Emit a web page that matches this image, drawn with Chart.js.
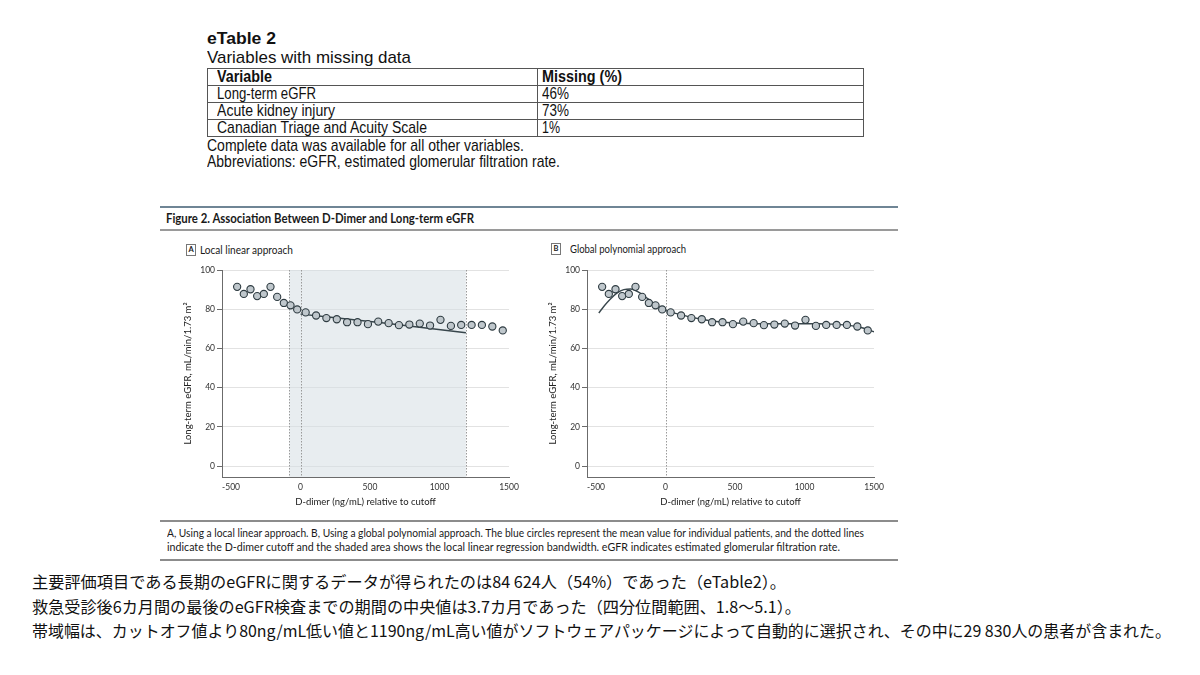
<!DOCTYPE html>
<html lang="ja">
<head>
<meta charset="UTF-8">
<title>eTable 2 / Figure 2</title>
<script src="https://cdn.jsdelivr.net/npm/chart.js@4.4.0/dist/chart.umd.min.js"></script>
<style>
    body {
        margin: 0;
        width: 1200px;
        height: 675px;
        position: relative;
        overflow: hidden;
        background: #fff;
        color: #111;
        font-family: 'Liberation Sans', Arial, sans-serif;
    }
    .t {
        position: absolute;
        white-space: nowrap;
        transform-origin: 0 50%;
    }
    .fit {
        display: inline-block;
        white-space: nowrap;
        transform-origin: 0 50%;
    }
    .narrow { font-size: 17px; line-height: 18px; }
    #tbl {
        position: absolute;
        left: 207px;
        top: 68px;
        width: 656px;
        border-collapse: collapse;
        table-layout: fixed;
        font-size: 17px;
    }
    #tbl td {
        border: 1px solid #555;
        height: 16px;
        line-height: 16px;
        padding: 0 0 0 9px;
        overflow: visible;
    }
    #tbl td.c2 { padding-left: 4px; }
    .rule { position: absolute; left: 160px; width: 738px; }
    .fig { font-family: Lato, 'Open Sans', sans-serif; color: #1a1a1a; }
    .box {
        position: absolute;
        width: 8px;
        height: 10px;
        border: 1px solid #777;
        font: bold 7.5px Lato, sans-serif;
        line-height: 10px;
        text-align: center;
        color: #222;
    }
    .jp { font-family: 'Noto Sans CJK JP', sans-serif; font-size: 16px; line-height: 20px; left: 32px; color: #111; }
    canvas { position: absolute; top: 255px; }
</style>
</head>
<body>
    <div class="t narrow" style="left:207px; top:30px; font-weight:bold;"><span class="fit" data-w="69">eTable 2</span></div>
    <div class="t narrow" style="left:207px; top:49px;"><span class="fit" data-w="204">Variables with missing data</span></div>

    <table id="tbl">
        <colgroup><col style="width:330px"><col style="width:326px"></colgroup>
        <tr><td><b class="fit" data-w="55">Variable</b></td><td class="c2"><b class="fit" data-w="80">Missing (%)</b></td></tr>
        <tr><td><span class="fit" data-w="99">Long-term eGFR</span></td><td class="c2"><span class="fit" data-w="27">46%</span></td></tr>
        <tr><td><span class="fit" data-w="118">Acute kidney injury</span></td><td class="c2"><span class="fit" data-w="27">73%</span></td></tr>
        <tr><td><span class="fit" data-w="210">Canadian Triage and Acuity Scale</span></td><td class="c2"><span class="fit" data-w="18">1%</span></td></tr>
    </table>

    <div class="t narrow" style="left:207px; top:137px;"><span class="fit" data-w="317">Complete data was available for all other variables.</span></div>
    <div class="t narrow" style="left:207px; top:153px;"><span class="fit" data-w="353">Abbreviations: eGFR, estimated glomerular filtration rate.</span></div>

    <div class="rule" style="top:206px; height:2px; background:#6f8595;"></div>
    <div class="t fig" style="left:166px; top:210px; font-size:14px; line-height:16px; font-weight:bold;"><span class="fit" data-w="308">Figure 2. Association Between D-Dimer and Long-term eGFR</span></div>
    <div class="rule" style="top:229px; height:2px; background:#9a9a9a;"></div>

    <div class="box" style="left:186px; top:244px;">A</div>
    <div class="t fig" style="left:200px; top:244px; font-size:10.5px; line-height:13px;"><span class="fit" data-w="93">Local linear approach</span></div>
    <div class="box" style="left:551px; top:243px;">B</div>
    <div class="t fig" style="left:570px; top:243px; font-size:10.5px; line-height:13px;"><span class="fit" data-w="116">Global polynomial approach</span></div>

    <canvas id="chartA" width="365" height="260" style="left:160px;"></canvas>
    <canvas id="chartB" width="365" height="260" style="left:525px;"></canvas>

    <div class="rule" style="top:520px; height:2px; background:#8c8c8c;"></div>
    <div class="t fig" style="left:167px; top:526px; font-size:11px; line-height:14px;"><span class="fit" data-w="697">A, Using a local linear approach. B, Using a global polynomial approach. The blue circles represent the mean value for individual patients, and the dotted lines</span></div>
    <div class="t fig" style="left:167px; top:540px; font-size:11px; line-height:14px;"><span class="fit" data-w="673">indicate the D-dimer cutoff and the shaded area shows the local linear regression bandwidth. eGFR indicates estimated glomerular filtration rate.</span></div>
    <div class="rule" style="top:559px; height:2px; background:#8c8c8c;"></div>

    <div class="t jp" style="top:571px;"><span class="fit" data-w="754">主要評価項目である長期のeGFRに関するデータが得られたのは84 624人（54%）であった（eTable2）。</span></div>
    <div class="t jp" style="top:596px;"><span class="fit" data-w="769">救急受診後6カ月間の最後のeGFR検査までの期間の中央値は3.7カ月であった（四分位間範囲、1.8～5.1）。</span></div>
    <div class="t jp" style="top:620px;"><span class="fit" data-w="1139">帯域幅は、カットオフ値より80ng/mL低い値と1190ng/mL高い値がソフトウェアパッケージによって自動的に選択され、その中に29 830人の患者が含まれた。</span></div>

    <script>
        // binned means (D-dimer relative to cutoff, eGFR)
        const binX = [-456, -408, -360, -312, -264, -216, -168, -120, -72, -24,
            37, 112, 186, 261, 335, 410, 485, 559, 634, 708,
            783, 858, 932, 1007, 1082, 1156, 1231, 1305, 1380, 1455];
        const binY = [91.4, 87.8, 90.2, 86.7, 87.8, 91.4, 86.3, 83.2, 82.0, 79.9,
            78.4, 76.8, 75.5, 74.9, 73.4, 73.4, 72.4, 73.7, 72.9, 71.9,
            72.2, 72.7, 71.7, 74.6, 71.5, 72.0, 72.0, 72.0, 71.2, 69.2];

        // A: local linear fit inside the bandwidth
        const fitAX = [0, 600, 1190];
        const fitAY = [77.5, 73.0, 68.0];

        // B: global polynomial fit, each side of the cutoff
        const fitBLeftX = [-480, -440, -400, -350, -300, -250, -200, -150, -100, -50, 0];
        const fitBLeftY = [78.1, 81.8, 85.0, 88.2, 90.0, 90.3, 89.0, 86.6, 83.8, 81.3, 79.3];
        const fitBRightX = [0, 100, 200, 300, 400, 500, 600, 700, 800, 900, 1000, 1100, 1200, 1300, 1400, 1500];
        const fitBRightY = [79.3, 77.4, 75.7, 74.4, 73.5, 73.0, 72.7, 72.6, 72.6, 72.6, 72.6, 72.6, 72.4, 71.9, 70.8, 68.5];

        const cutoff = 0;
        const bandLo = -80;
        const bandHi = 1190;

        const xTicks = [-500, 0, 500, 1000, 1500];
        const yTicks = [0, 20, 40, 60, 80, 100];

        // squeeze text blocks to the measured widths
        document.querySelectorAll('[data-w]').forEach(el => {
            const w = el.getBoundingClientRect().width;
            el.style.transform = 'scaleX(' + (el.dataset.w / w) + ')';
        });

        const pairs = (xs, ys) => xs.map((x, i) => ({ x: x, y: ys[i] }));

        const bandPlugin = {
            id: 'band',
            beforeDatasetsDraw(chart, args, opts) {
                const { ctx, chartArea: a, scales: { x } } = chart;
                ctx.save();
                if (opts.band) {
                    const x1 = x.getPixelForValue(opts.band[0]);
                    const x2 = x.getPixelForValue(opts.band[1]);
                    ctx.fillStyle = 'rgba(214, 222, 228, 0.55)';
                    ctx.fillRect(x1, a.top, x2 - x1, a.bottom - a.top);
                }
                ctx.strokeStyle = '#9a9a9a';
                ctx.lineWidth = 1;
                ctx.setLineDash([1.5, 1.5]);
                (opts.lines || []).forEach(v => {
                    const px = Math.round(x.getPixelForValue(v)) + 0.5;
                    ctx.beginPath();
                    ctx.moveTo(px, a.top);
                    ctx.lineTo(px, a.bottom);
                    ctx.stroke();
                });
                ctx.restore();
            }
        };

        const tickFont = { family: 'Lato', size: 8.5 };
        const titleFont = { family: 'Lato', size: 9.5, lineHeight: 1.2 };

        const pointSet = {
            type: 'scatter',
            data: pairs(binX, binY),
            pointRadius: 3.6,
            pointBackgroundColor: '#bfc7cc',
            pointBorderColor: '#2e3b41',
            pointBorderWidth: 1.1
        };

        function fitLine(xs, ys) {
            return {
                type: 'line',
                data: pairs(xs, ys),
                borderColor: '#38464c',
                borderWidth: 1.4,
                pointRadius: 0,
                fill: false,
                cubicInterpolationMode: 'monotone'
            };
        }

        function makeChart(id, lines, bandOpts) {
            return new Chart(document.getElementById(id), {
                type: 'scatter',
                data: { datasets: [pointSet].concat(lines) },
                options: {
                    responsive: false,
                    animation: false,
                    devicePixelRatio: 1,
                    layout: { padding: { left: 0, top: 15, right: 16, bottom: 5 } },
                    plugins: { legend: { display: false }, tooltip: { enabled: false }, band: bandOpts },
                    scales: {
                        x: {
                            type: 'linear',
                            min: -565,
                            max: 1500,
                            afterBuildTicks: s => { s.ticks = xTicks.map(v => ({ value: v })); },
                            afterFit: s => { s.height = 33; },
                            grid: { display: false, drawTicks: false, tickLength: 0 },
                            border: { display: true, color: '#6b6b6b', width: 1 },
                            ticks: { font: tickFont, color: '#333', padding: 5, maxRotation: 0, autoSkip: false, callback: v => String(v) },
                            title: { display: true, text: 'D-dimer (ng/mL) relative to cutoff', font: titleFont, color: '#222', padding: { top: 0, bottom: 2 } }
                        },
                        y: {
                            type: 'linear',
                            min: -5.5,
                            max: 100,
                            afterBuildTicks: s => { s.ticks = yTicks.map(v => ({ value: v })); },
                            afterFit: s => { s.width = 62; },
                            grid: { color: '#e2e2e2', lineWidth: 1, tickLength: 5, tickColor: '#6b6b6b' },
                            border: { display: true, color: '#6b6b6b', width: 1 },
                            ticks: { font: tickFont, color: '#333', padding: 2, callback: v => String(v) },
                            title: { display: true, text: 'Long-term eGFR, mL/min/1.73 m²', font: titleFont, color: '#222', padding: { top: 22, bottom: 0 } }
                        }
                    }
                },
                plugins: [bandPlugin]
            });
        }

        makeChart('chartA', [fitLine(fitAX, fitAY)], { band: [bandLo, bandHi], lines: [bandLo, cutoff, bandHi] });
        makeChart('chartB', [fitLine(fitBLeftX, fitBLeftY), fitLine(fitBRightX, fitBRightY)], { lines: [cutoff] });
    </script>
</body>
</html>
